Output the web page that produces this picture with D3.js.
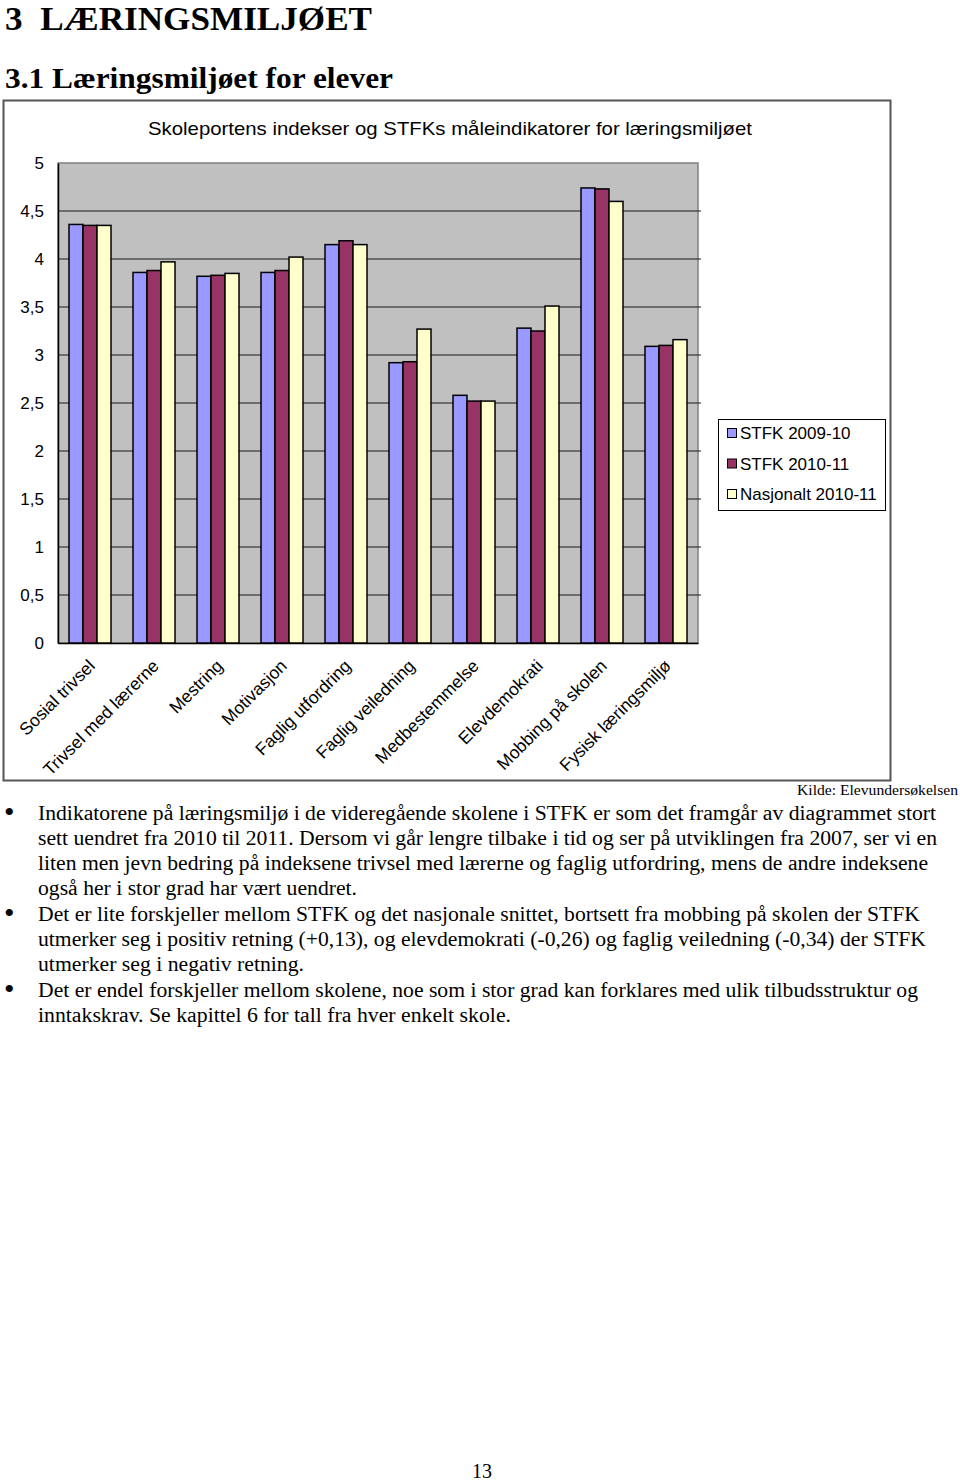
<!DOCTYPE html>
<html><head><meta charset="utf-8">
<script src="https://cdn.jsdelivr.net/npm/d3@7"></script>
<style>
html,body{margin:0;padding:0;background:#fff;}
svg{display:block;}
</style></head>
<body>
<svg id="page" width="960" height="1482"></svg>
<script>
const categories = ["Sosial trivsel","Trivsel med lærerne","Mestring","Motivasjon","Faglig utfordring","Faglig veiledning","Medbestemmelse","Elevdemokrati","Mobbing på skolen","Fysisk læringsmiljø"];
const seriesNames = ["STFK 2009-10","STFK 2010-11","Nasjonalt 2010-11"];
const stfk0910 = [4.36, 3.86, 3.82, 3.86, 4.15, 2.92, 2.58, 3.28, 4.74, 3.09];
const stfk1011 = [4.35, 3.88, 3.83, 3.88, 4.19, 2.93, 2.52, 3.25, 4.73, 3.10];
const nasjonalt = [4.35, 3.97, 3.85, 4.02, 4.15, 3.27, 2.52, 3.51, 4.60, 3.16];
const yTicks = [0, 0.5, 1, 1.5, 2, 2.5, 3, 3.5, 4, 4.5, 5];
const yTickLabels = ["0","0,5","1","1,5","2","2,5","3","3,5","4","4,5","5"];
const chartTitle = "Skoleportens indekser og STFKs måleindikatorer for læringsmiljøet";
const heading1 = "3  LÆRINGSMILJØET";
const heading2 = "3.1 Læringsmiljøet for elever";
const source = "Kilde: Elevundersøkelsen";
const bullets = [
  ["Indikatorene på læringsmiljø i de videregående skolene i STFK er som det framgår av diagrammet stort",
   "sett uendret fra 2010 til 2011. Dersom vi går lengre tilbake i tid og ser på utviklingen fra 2007, ser vi en",
   "liten men jevn bedring på indeksene trivsel med lærerne og faglig utfordring, mens de andre indeksene",
   "også her i stor grad har vært uendret."],
  ["Det er lite forskjeller mellom STFK og det nasjonale snittet, bortsett fra mobbing på skolen der STFK",
   "utmerker seg i positiv retning (+0,13), og elevdemokrati (-0,26) og faglig veiledning (-0,34) der STFK",
   "utmerker seg i negativ retning."],
  ["Det er endel forskjeller mellom skolene, noe som i stor grad kan forklares med ulik tilbudsstruktur og",
   "inntakskrav. Se kapittel 6 for tall fra hver enkelt skole."]
];
const pageNumber = "13";

const colors = ["#9999FF", "#993366", "#FFFFCC"];
const seriesValues = [stfk0910, stfk1011, nasjonalt];

const svg = d3.select("#page");
const serif = "'Liberation Serif','Times New Roman',serif";
const sans = "'Liberation Sans',Arial,sans-serif";

// headings
svg.append("text").attr("x", 5).attr("y", 30).attr("font-family", serif).attr("font-weight", "bold")
  .attr("font-size", 33.5).attr("textLength", 367).attr("lengthAdjust", "spacingAndGlyphs")
  .attr("xml:space", "preserve").style("white-space", "pre").text(heading1);
svg.append("text").attr("x", 5).attr("y", 88).attr("font-family", serif).attr("font-weight", "bold")
  .attr("font-size", 30).attr("textLength", 388).attr("lengthAdjust", "spacingAndGlyphs").text(heading2);

// chart frame
svg.append("rect").attr("x", 3.5).attr("y", 100.5).attr("width", 887).attr("height", 680)
  .attr("fill", "#fff").attr("stroke", "#555").attr("stroke-width", 2);

svg.append("text").attr("x", 450).attr("y", 135).attr("text-anchor", "middle")
  .attr("font-family", sans).attr("font-size", 19).attr("textLength", 604)
  .attr("lengthAdjust", "spacingAndGlyphs").text(chartTitle);

const plotL = 58, plotR = 698, plotT = 163, plotB = 643;
const y = d3.scaleLinear().domain([0, 5]).range([plotB, plotT]);
const x = d3.scaleBand().domain(categories).range([plotL, plotR])
  .paddingInner(22 / 64).paddingOuter(11 / 64);
const xs = d3.scaleBand().domain(seriesNames).range([0, x.bandwidth()]);

// plot background
svg.append("rect").attr("x", plotL).attr("y", plotT).attr("width", plotR - plotL).attr("height", plotB - plotT)
  .attr("fill", "#C0C0C0").attr("stroke", "#808080").attr("stroke-width", 1.5);

// grid
svg.append("g").selectAll("line").data(yTicks.filter(d => d > 0 && d < 5)).join("line")
  .attr("x1", plotL).attr("x2", plotR + 3)
  .attr("y1", d => y(d)).attr("y2", d => y(d))
  .attr("stroke", "#1a1a1a").attr("stroke-width", 1.2);

// y axis
const yAxis = d3.axisLeft(y).tickValues(yTicks).tickFormat((d, i) => yTickLabels[i]).tickSize(0).tickPadding(14);
const yg = svg.append("g").attr("transform", `translate(${plotL},0)`).call(yAxis);
yg.select(".domain").attr("stroke", "#000").attr("stroke-width", 1.5);
yg.selectAll("text").attr("font-family", sans).attr("font-size", 17).attr("fill", "#000");

// x axis
const xAxis = d3.axisBottom(x).tickSize(0).tickFormat(d => d);
const xg = svg.append("g").attr("transform", `translate(0,${plotB})`).call(xAxis);
xg.select(".domain").attr("stroke", "#000").attr("stroke-width", 1.5);
xg.selectAll(".tick text")
  .attr("font-family", sans).attr("font-size", 17.5).attr("fill", "#000")
  .attr("text-anchor", "end").attr("dy", 0)
  .attr("transform", "translate(6,24) rotate(-45)")
  .attr("y", 0).attr("x", 0);

// bars
const groups = svg.append("g").selectAll("g").data(categories).join("g")
  .attr("transform", d => `translate(${x(d)},0)`);
groups.selectAll("rect").data((d, i) => seriesNames.map((s, j) => ({ s, v: seriesValues[j][i], c: colors[j] })))
  .join("rect")
  .attr("x", d => xs(d.s)).attr("y", d => y(d.v))
  .attr("width", xs.bandwidth()).attr("height", d => y(0) - y(d.v))
  .attr("fill", d => d.c).attr("stroke", "#000").attr("stroke-width", 1.5);

// legend
const lg = svg.append("g");
lg.append("rect").attr("x", 718.5).attr("y", 419.5).attr("width", 167).attr("height", 91)
  .attr("fill", "#fff").attr("stroke", "#000").attr("stroke-width", 1);
seriesNames.forEach((s, i) => {
  const cy = 433 + i * 30.5;
  lg.append("rect").attr("x", 727.5).attr("y", cy - 4.5).attr("width", 9).attr("height", 9)
    .attr("fill", colors[i]).attr("stroke", "#000").attr("stroke-width", 1);
  lg.append("text").attr("x", 740).attr("y", cy + 6).attr("font-family", sans).attr("font-size", 17).text(s);
});

// source
svg.append("text").attr("x", 958).attr("y", 795).attr("text-anchor", "end")
  .attr("font-family", serif).attr("font-size", 15).attr("textLength", 161)
  .attr("lengthAdjust", "spacingAndGlyphs").text(source);

// bullets
const lineRights = [[936, 937, 928, 357], [920, 926, 304], [918, 511]];
let ly = 820;
bullets.forEach((para, pi) => {
  svg.append("text").attr("x", 4).attr("y", ly + 2).attr("font-family", serif).attr("font-size", 30).text("•");
  para.forEach((line, li) => {
    const t = svg.append("text").attr("x", 38).attr("y", ly).attr("font-family", serif).attr("font-size", 20).text(line);
    const r = lineRights[pi][li];
    if (r) t.attr("textLength", r - 38).attr("lengthAdjust", "spacingAndGlyphs");
    ly += 25;
  });
  ly += 1;
});

svg.append("text").attr("x", 482).attr("y", 1478).attr("text-anchor", "middle")
  .attr("font-family", serif).attr("font-size", 20).text(pageNumber);
</script>
</body></html>
